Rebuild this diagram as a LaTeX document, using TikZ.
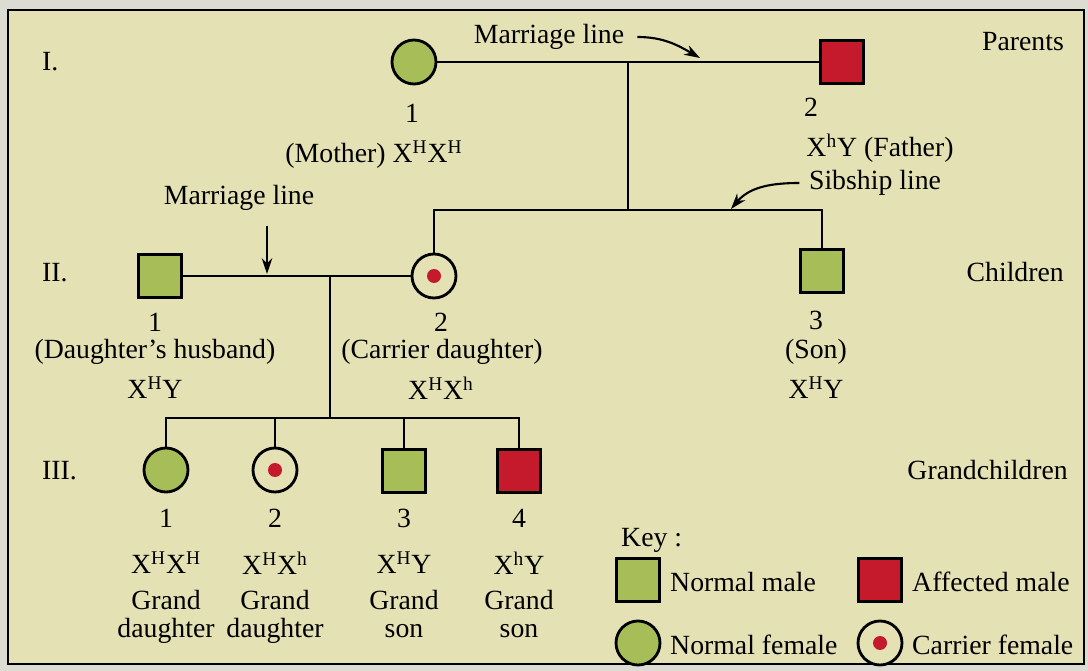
\documentclass[tikz,border=0pt]{standalone}
\usepackage{fontspec}
\setmainfont{Liberation Serif}
\usetikzlibrary{arrows.meta}
\definecolor{paper}{HTML}{E4E1B4}
\definecolor{margin}{HTML}{DCDCD2}
\definecolor{leaf}{HTML}{A6BD58}
\definecolor{blood}{HTML}{C41A2C}
\newcommand{\xg}[1]{X\textsuperscript{#1}}
\begin{document}
\begin{tikzpicture}[x=0.02cm, y=-0.02cm, >={Stealth[length=9pt,width=6pt]},
		every node/.style={font=\fontsize{15.8}{18}\selectfont},
		male/.style={draw, line width=1.6pt, rectangle, minimum size=0.86cm, inner sep=0pt, fill=leaf},
		affected/.style={male, fill=blood},
		female/.style={draw, line width=1.6pt, circle, minimum size=0.88cm, inner sep=0pt, fill=leaf},
		carrier/.style={female, fill=paper, path picture={\fill[blood] (path picture bounding box.center) circle (0.14cm);}},
		link/.style={line width=1.3pt}]
		\useasboundingbox (0,0) rectangle (1088,671);
		\fill[margin] (0,0) rectangle (1088,671);
		\draw[line width=1.3pt, fill=paper] (8,10) rectangle (1084,664);

		% generation labels
		\node[anchor=west] (g1) at (36,62) {I.};
		\node[anchor=west] (g2) at (36,273) {II.};
		\node[anchor=west] (g3) at (36,471) {III.};
		\node[anchor=east] (t1) at (1070,42) {Parents};
		\node[anchor=east] (t2) at (1070,272) {Children};
		\node[anchor=east] (t3) at (1074,470) {Grandchildren};

		% parents
		\node[female] (mother) at (414,62) {};
		\node[affected] (father) at (842,62) {};
		\node (n11) at (412,113) {1};
		\node (mothertxt) at (374,155) {(Mother) \xg{H}\xg{H}};
		\node (n12) at (811,107) {2};
		\node (fathertxt) at (880,148) {\xg{h}Y (Father)};
		\draw[link] (mother) -- (father);
		\coordinate (m1) at (628,62);
		\coordinate (s1) at (628,210);
		\draw[link] (m1) -- (s1);

		% children
		\node[male] (husband) at (160,276) {};
		\node[carrier] (daughter) at (434,276) {};
		\node[male] (son) at (822,271) {};
		\draw[link] (daughter.north) |- (s1) -| (son.north);
		\draw[link] (husband) -- (daughter);
		\node (n21) at (155,322) {1};
		\node (husbandtxt) at (155,352) {(Daughter’s husband)};
		\node (husbandgt) at (155,388) {\xg{H}Y};
		\node (n22) at (441,322) {2};
		\node (daughtertxt) at (442,352) {(Carrier daughter)};
		\node (daughtergt) at (441,388) {\xg{H}\xg{h}};
		\node (n23) at (816,320) {3};
		\node (sontxt) at (816,352) {(Son)};
		\node (songt) at (816,388) {\xg{H}Y};
		\coordinate (m2) at (330,276);
		\coordinate (s2) at (330,418);
		\draw[link] (m2) -- (s2);

		% grandchildren
		\node[female] (gd1) at (166,470) {};
		\node[carrier] (gd2) at (275,470) {};
		\node[male] (gs3) at (404,471) {};
		\node[affected] (gs4) at (519,471) {};
		\draw[link] (gd1.north) |- (s2) -| (gs4.north);
		\draw[link] (gd2.north) -- (gd2.north |- s2);
		\draw[link] (gs3.north) -- (gs3.north |- s2);
		\foreach \i/\x/\gt/\a/\b in {1/166/{\xg{H}\xg{H}}/Grand/daughter, 2/275/{\xg{H}\xg{h}}/Grand/daughter, 3/404/{\xg{H}Y}/Grand/son, 4/519/{\xg{h}Y}/Grand/son}{
			\node (n3\i) at (\x,518) {\i};
			\node (gt3\i) at (\x,563) {\gt};
			\node (ga3\i) at (\x,600) {\a};
			\node (gb3\i) at (\x,631) {\b};
		}

		% pointers
		\node (marr1) at (549,37) {Marriage line};
		\coordinate (tip1) at (700,58);
		\draw[->, line width=1.2pt] ([xshift=4pt]marr1.east) to[out=0, in=150] (tip1);
		\node (sibtxt) at (875,183) {Sibship line};
		\coordinate (tip2) at (731,209);
		\draw[->, line width=1.2pt] ([xshift=-2pt]sibtxt.west) to[out=180, in=50] (tip2);
		\node (marr2) at (239,198) {Marriage line};
		\coordinate (from3) at (267,226);
		\coordinate (tip3) at (267,274);
		\draw[->, line width=1.2pt] (from3) -- (tip3);

		% key
		\node[anchor=west] (key) at (615,540) {Key :};
		\node[male] (k1) at (638,580) {};
		\node[anchor=west] (k1t) at (664,582) {Normal male};
		\node[affected] (k2) at (880,580) {};
		\node[anchor=west] (k2t) at (906,582) {Affected male};
		\node[female] (k3) at (638,643) {};
		\node[anchor=west] (k3t) at (664,645) {Normal female};
		\node[carrier] (k4) at (880,643) {};
		\node[anchor=west] (k4t) at (906,645) {Carrier female};
\end{tikzpicture}
\end{document}
